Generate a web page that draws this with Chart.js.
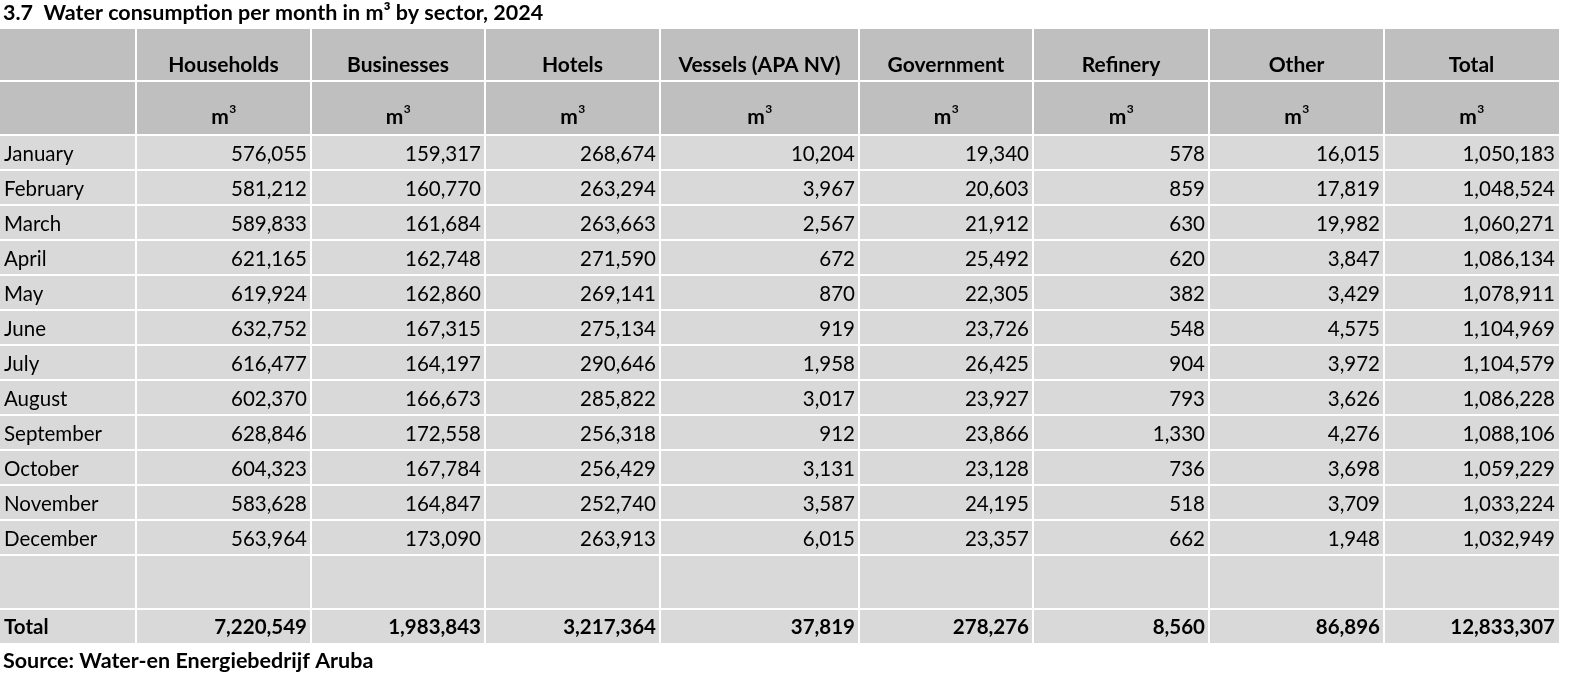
<!DOCTYPE html>
<html>
<head>
<meta charset="utf-8">
<script src="https://cdn.jsdelivr.net/npm/chart.js@4"></script>
<style>
  body { margin: 0; background: #fff; }
</style>
</head>
<body>
<canvas id="table" width="1573" height="678"></canvas>
<script>
const titleText = "3.7  Water consumption per month in m\u00b3 by sector, 2024";
const sourceText = "Source: Water-en Energiebedrijf Aruba";

const sectors = ["Households", "Businesses", "Hotels", "Vessels (APA NV)", "Government", "Refinery", "Other", "Total"];
const months = ["January", "February", "March", "April", "May", "June", "July", "August", "September", "October", "November", "December"];

const households = [576055, 581212, 589833, 621165, 619924, 632752, 616477, 602370, 628846, 604323, 583628, 563964];
const businesses = [159317, 160770, 161684, 162748, 162860, 167315, 164197, 166673, 172558, 167784, 164847, 173090];
const hotels = [268674, 263294, 263663, 271590, 269141, 275134, 290646, 285822, 256318, 256429, 252740, 263913];
const vessels = [10204, 3967, 2567, 672, 870, 919, 1958, 3017, 912, 3131, 3587, 6015];
const government = [19340, 20603, 21912, 25492, 22305, 23726, 26425, 23927, 23866, 23128, 24195, 23357];
const refinery = [578, 859, 630, 620, 382, 548, 904, 793, 1330, 736, 518, 662];
const other = [16015, 17819, 19982, 3847, 3429, 4575, 3972, 3626, 4276, 3698, 3709, 1948];
const monthTotals = [1050183, 1048524, 1060271, 1086134, 1078911, 1104969, 1104579, 1086228, 1088106, 1059229, 1033224, 1032949];
const yearTotals = [7220549, 1983843, 3217364, 37819, 278276, 8560, 86896, 12833307];

const series = [households, businesses, hotels, vessels, government, refinery, other, monthTotals];

// layout of the grid (scale units)
const colWidths = [136, 175, 174, 175, 199, 174, 176, 175, 175];
const headerHeights = [52, 54];
const rowHeight = 35;
const blankHeight = 54;
const totalHeight = 34;

const FONT = "Lato, 'Open Sans', sans-serif";
const fmt = v => v.toLocaleString("en-US");

const colEdges = [0];
colWidths.forEach(w => colEdges.push(colEdges[colEdges.length - 1] + w));

const rowEdges = [0];
const rowHeights = headerHeights.concat(months.map(() => rowHeight), [blankHeight, totalHeight]);
rowHeights.forEach(h => rowEdges.push(rowEdges[rowEdges.length - 1] + h));

const tablePlugin = {
    id: "tablePlugin",
    beforeDatasetsDraw(chart) {
        const ctx = chart.ctx;
        const x = chart.scales.x;
        const y = chart.scales.y;
        const px = v => x.getPixelForValue(v);
        const py = v => y.getPixelForValue(v);
        const nCols = colWidths.length;
        const nRows = rowHeights.length;

        ctx.save();
        // cell fills
        for (let r = 0; r < nRows; r++) {
            ctx.fillStyle = r < 2 ? "#bfbfbf" : "#d9d9d9";
            for (let c = 0; c < nCols; c++) {
                const x0 = px(colEdges[c]) + (c > 0 ? 1 : 0);
                const x1 = px(colEdges[c + 1]) - (c < nCols - 1 ? 1 : 0);
                const y0 = py(rowEdges[r]) + (r > 0 ? 1 : 0);
                const y1 = py(rowEdges[r + 1]) - (r < nRows - 1 ? 1 : 0);
                ctx.fillRect(x0, y0, x1 - x0, y1 - y0);
            }
        }

        ctx.fillStyle = "#000";
        const cellBase = r => py(rowEdges[r + 1]) - 9;

        // header: sector names
        ctx.font = "bold 21px " + FONT;
        ctx.textAlign = "center";
        ctx.textBaseline = "alphabetic";
        sectors.forEach((s, i) => {
            const cx = (px(colEdges[i + 1]) + px(colEdges[i + 2])) / 2;
            ctx.fillText(s, cx, cellBase(0));
        });

        // header: units m3
        sectors.forEach((s, i) => {
            const cx = (px(colEdges[i + 1]) + px(colEdges[i + 2])) / 2;
            ctx.font = "bold 21px " + FONT;
            const wm = ctx.measureText("m").width;
            ctx.font = "bold 12px " + FONT;
            const w3 = ctx.measureText("3").width;
            const left = cx - (wm + w3) / 2;
            ctx.textAlign = "left";
            ctx.font = "bold 21px " + FONT;
            ctx.fillText("m", left, cellBase(1) - 2);
            ctx.font = "bold 12px " + FONT;
            ctx.fillText("3", left + wm + 0.5, cellBase(1) - 13);
        });

        // monthly rows
        months.forEach((m, r) => {
            const base = cellBase(r + 2);
            ctx.font = "20.5px " + FONT;
            ctx.textAlign = "left";
            ctx.fillText(m, px(colEdges[0]) + 4, base);
            ctx.textAlign = "right";
            series.forEach((vals, c) => {
                ctx.fillText(fmt(vals[r]), px(colEdges[c + 2]) - 4, base);
            });
        });

        // totals row
        const tBase = cellBase(nRows - 1);
        ctx.font = "bold 20.5px " + FONT;
        ctx.textAlign = "left";
        ctx.fillText("Total", px(colEdges[0]) + 4, tBase);
        ctx.textAlign = "right";
        yearTotals.forEach((v, c) => {
            ctx.fillText(fmt(v), px(colEdges[c + 2]) - 4, tBase);
        });

        // title and source
        ctx.textAlign = "left";
        ctx.font = "bold 21.5px " + FONT;
        ctx.fillText(titleText, 3, py(0) - 9);
        ctx.fillText(sourceText, 3, py(rowEdges[nRows]) + 25);
        ctx.restore();
    }
};

new Chart(document.getElementById("table"), {
    type: "scatter",
    data: { datasets: [] },
    options: {
        responsive: false,
        animation: false,
        events: [],
        layout: { padding: { left: 0, right: 1573 - colEdges[colEdges.length - 1], top: 29, bottom: 678 - 29 - rowEdges[rowEdges.length - 1] } },
        plugins: { legend: { display: false }, tooltip: { enabled: false }, title: { display: false } },
        scales: {
            x: { type: "linear", min: 0, max: colEdges[colEdges.length - 1], display: false },
            y: { type: "linear", min: 0, max: rowEdges[rowEdges.length - 1], reverse: true, display: false }
        }
    },
    plugins: [tablePlugin]
});
</script>
</body>
</html>
